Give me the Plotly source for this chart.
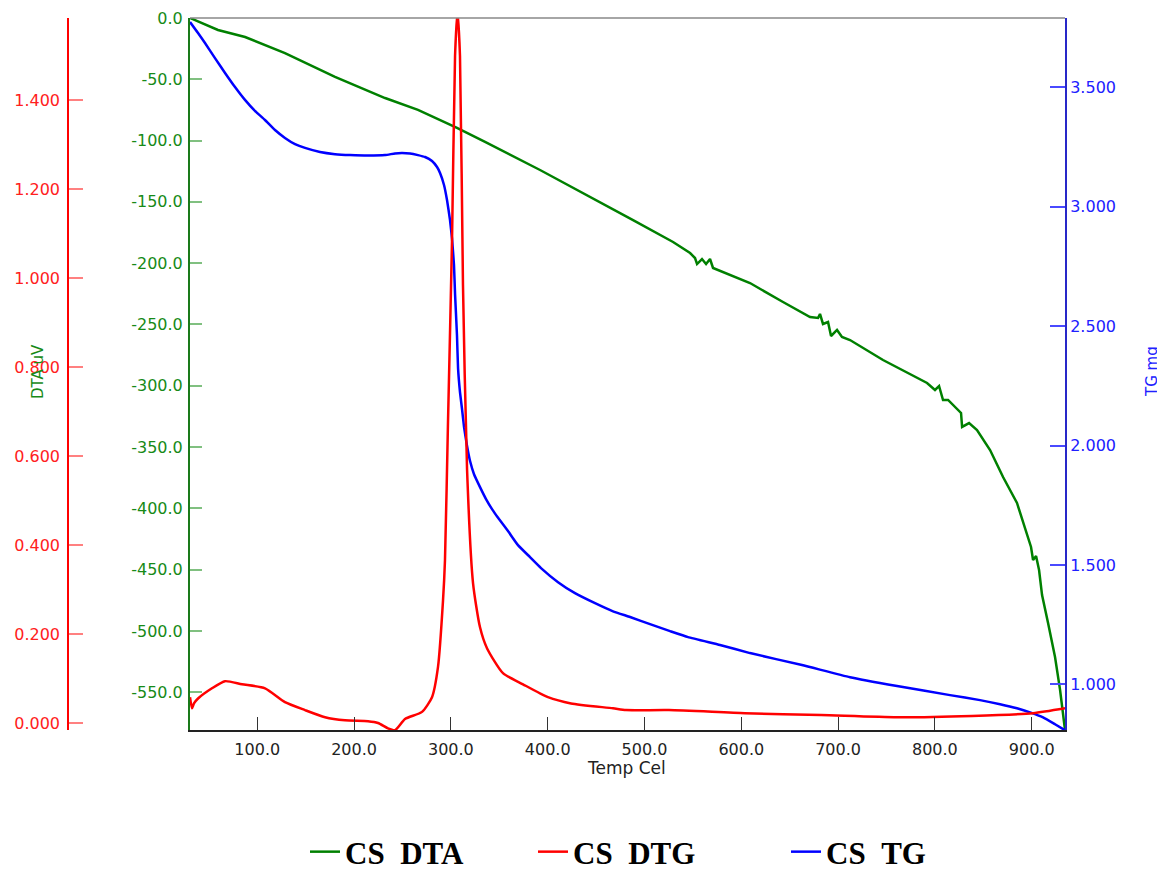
import plotly.graph_objects as go

# ---- Data ----
dta_temp = [30.5, 59.4, 87.4, 128.6, 180.3, 232.0, 266.0, 306.3, 335.3, 392.1, 488.2,
            529.5, 547.1, 552.2, 554.3, 559.4, 563.6, 567.7, 570.8, 609.0, 643.1, 671.0,
            679.3, 681.3, 684.4, 689.6, 692.7, 698.9, 704.0, 712.3, 746.4, 781.5, 791.9,
            800.1, 804.3, 808.4, 813.6, 827.0, 828.1, 835.3, 843.5, 857.0, 870.4, 884.8,
            895.2, 899.3, 901.4, 904.5, 907.6, 910.7, 916.9, 924.1, 929.3, 934.4]
dta_uv = [0.0, -9.8, -15.5, -28.6, -48.1, -65.3, -75.0, -89.7, -101.1, -124.0, -164.8,
          -182.7, -191.7, -195.8, -200.7, -196.6, -200.7, -196.6, -203.9, -216.2, -231.7, -243.9,
          -244.7, -241.4, -249.6, -248.0, -259.4, -254.5, -260.2, -262.7, -279.0, -293.7, -297.7,
          -303.4, -300.2, -311.6, -311.6, -322.2, -333.6, -330.4, -336.1, -352.4, -374.4, -395.6,
          -420.1, -431.5, -442.1, -438.9, -450.3, -470.7, -493.5, -521.2, -548.1, -580.8]

dtg_temp = [30.5, 32.6, 34.6, 38.8, 53.2, 66.7, 84.2, 108.0, 128.6, 149.3, 170.0, 190.6,
            214.4, 224.7, 235.0, 242.3, 252.6, 270.2, 280.5, 286.7, 291.9, 293.9, 297.0,
            301.2, 304.3, 306.8, 309.4, 312.5, 316.7, 322.9, 330.1, 337.3, 353.8, 374.5,
            400.3, 424.1, 467.5, 480.9, 525.3, 603.8, 682.4, 760.9, 838.3, 901.3, 934.4]
dtg_val = [0.059, 0.034, 0.045, 0.056, 0.079, 0.095, 0.088, 0.079, 0.048, 0.030, 0.014, 0.007,
           0.005, 0.001, -0.011, -0.015, 0.010, 0.026, 0.059, 0.127, 0.277, 0.367, 0.675,
           1.088, 1.500, 1.600, 1.500, 0.985, 0.571, 0.315, 0.216, 0.169, 0.113, 0.088,
           0.059, 0.045, 0.034, 0.030, 0.030, 0.023, 0.019, 0.014, 0.017, 0.023, 0.034]

tg_temp = [30.5, 38.8, 46.0, 56.3, 66.7, 77.0, 87.3, 97.6, 108.0, 118.3, 128.6, 139.0,
           149.3, 164.8, 180.3, 195.8, 214.4, 232.0, 242.3, 249.5, 257.8, 266.0, 273.3,
           280.5, 285.7, 288.8, 292.9, 296.0, 299.1, 301.2, 303.2, 304.3, 306.3, 307.4,
           309.4, 311.5, 313.6, 316.7, 319.8, 323.9, 330.1, 336.3, 342.5, 349.7, 359.0,
           369.3, 381.7, 393.1, 410.7, 428.2, 448.9, 467.5, 485.1, 505.7, 526.4, 545.0,
           578.0, 609.0, 662.7, 712.3, 760.9, 815.6, 846.6, 867.3, 884.8, 898.3, 911.7,
           924.1, 934.4]
tg_mg = [3.773, 3.727, 3.685, 3.622, 3.560, 3.501, 3.447, 3.401, 3.363, 3.321, 3.288, 3.262,
         3.246, 3.229, 3.220, 3.216, 3.214, 3.216, 3.223, 3.225, 3.223, 3.216, 3.208,
         3.191, 3.166, 3.141, 3.091, 3.028, 2.944, 2.865, 2.756, 2.634, 2.462, 2.324,
         2.224, 2.153, 2.077, 1.998, 1.935, 1.880, 1.826, 1.776, 1.734, 1.692, 1.642,
         1.583, 1.533, 1.487, 1.428, 1.382, 1.340, 1.306, 1.282, 1.252, 1.223, 1.198,
         1.165, 1.131, 1.081, 1.030, 0.993, 0.955, 0.934, 0.917, 0.900, 0.883, 0.862,
         0.833, 0.808]

dta_tickvals = [0, -50, -100, -150, -200, -250, -300, -350, -400, -450, -500, -550]
dta_ticktext = ["0.0", "-50.0", "-100.0", "-150.0", "-200.0", "-250.0", "-300.0",
                "-350.0", "-400.0", "-450.0", "-500.0", "-550.0"]

legend_names = ["CS\u00a0\u00a0DTA", "CS\u00a0\u00a0DTG", "CS\u00a0\u00a0TG"]

# page body has an 8px margin: figure is drawn 8px smaller and all positions shifted
OFF = 8
W, H = 1165 - OFF, 871 - OFF
PLOT_TOP, PLOT_BOT = 18 - OFF, 730 - OFF
PH = PLOT_BOT - PLOT_TOP
TICKFONT = "DejaVu Sans"


def px(xr):
    return (xr - OFF) / W


def py(yr):
    return (PLOT_BOT - (yr - OFF)) / PH


fig = go.Figure()
fig.add_trace(go.Scatter(x=dta_temp, y=dta_uv, mode="lines", name=legend_names[0],
                         line=dict(color="#008000", width=2.5), yaxis="y", legendwidth=183))
fig.add_trace(go.Scatter(x=dtg_temp, y=dtg_val, mode="lines", name=legend_names[1],
                         line=dict(color="#ff0000", width=2.5, shape="spline", smoothing=0.6),
                         yaxis="y3", legendwidth=208))
fig.add_trace(go.Scatter(x=tg_temp, y=tg_mg, mode="lines", name=legend_names[2],
                         line=dict(color="#0000ff", width=2.5, shape="spline", smoothing=0.4),
                         yaxis="y2"))

fig.update_layout(
    width=W, height=H,
    margin=dict(l=0, r=0, t=PLOT_TOP, b=H - PLOT_BOT, autoexpand=False),
    paper_bgcolor="white", plot_bgcolor="white",
    xaxis=dict(domain=[px(190), px(1065)], range=[30.5, 934.4],
               showline=True, linecolor="#222", linewidth=1.5,
               ticks="inside", ticklen=13, tickcolor="#333", tickwidth=1.2,
               tick0=0, dtick=100, tickformat=".1f", showgrid=False, zeroline=False,
               ticklabelstandoff=4,
               tickfont=dict(family=TICKFONT, size=16, color="#222"), automargin=False),
    yaxis=dict(range=[-580.8, 0], anchor="x", side="left",
               showline=True, linecolor="#1a7a1a", linewidth=2,
               ticks="inside", ticklen=12, tickcolor="#80c080", tickwidth=1.5,
               tickvals=dta_tickvals, ticktext=dta_ticktext,
               showgrid=False, zeroline=False, ticklabelstandoff=2,
               tickfont=dict(family=TICKFONT, size=16, color="#178a17"), automargin=False),
    yaxis2=dict(range=[0.809, 3.79], overlaying="y", anchor="x", side="right",
                showline=True, linecolor="#2828c8", linewidth=2,
                ticks="inside", ticklen=15, tickcolor="#4a4aff", tickwidth=1.5,
                tick0=0, dtick=0.5, tickformat=".3f", showgrid=False, zeroline=False,
                tickfont=dict(family=TICKFONT, size=16, color="#2020ff"), automargin=False),
    yaxis3=dict(range=[-0.0147, 1.585], overlaying="y", anchor="free", position=px(68),
                side="left", showline=True, linecolor="#ff0000", linewidth=1.5,
                ticks="inside", ticklen=14, tickcolor="#ff8080", tickwidth=1.5,
                tick0=0, dtick=0.2, tickformat=".3f", showgrid=False, zeroline=False,
                ticklabelstandoff=4,
                tickfont=dict(family=TICKFONT, size=16, color="#ff2020"), automargin=False),
    legend=dict(orientation="h", x=(345 - OFF - 40) / W, xanchor="left", y=py(852),
                yanchor="middle", font=dict(family="Liberation Serif", size=31, color="black",
                                            weight="bold"),
                bgcolor="rgba(0,0,0,0)", traceorder="normal"),
    showlegend=True,
    shapes=[dict(type="line", xref="paper", yref="paper", x0=px(190), x1=px(1065),
                 y0=1, y1=1, line=dict(color="#888", width=1.5))],
    annotations=[
        dict(text="Temp Cel", xref="paper", yref="paper", x=px(668), y=py(768),
             xanchor="right", yanchor="middle", showarrow=False,
             font=dict(family=TICKFONT, size=17, color="#222")),
        dict(text="DTA uV", xref="paper", yref="paper", x=px(38), y=py(372),
             xanchor="center", yanchor="middle", textangle=-90, showarrow=False,
             font=dict(family=TICKFONT, size=15, color="#178a17")),
        dict(text="TG mg", xref="paper", yref="paper", x=px(1152), y=py(372),
             xanchor="center", yanchor="middle", textangle=-90, showarrow=False,
             font=dict(family=TICKFONT, size=15, color="#2020ff")),
    ],
)

fig.write_html("out.html")
